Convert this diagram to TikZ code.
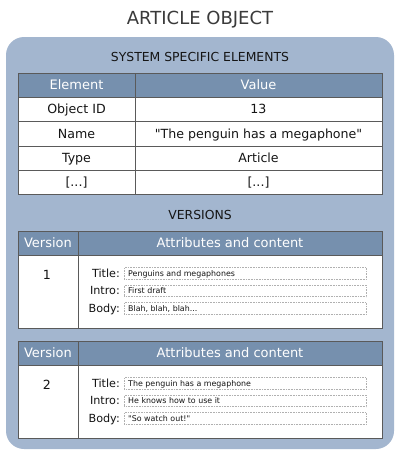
\documentclass[tikz,border=0pt]{standalone}
\usepackage{fontspec}
\setmainfont{DejaVu Sans}
\definecolor{outerfill}{HTML}{A3B6CF}
\definecolor{headfill}{HTML}{7690AE}
\definecolor{gridc}{HTML}{5A5A5A}
\definecolor{txt}{HTML}{151515}
\definecolor{titlec}{HTML}{3A3A3A}
\definecolor{dotc}{HTML}{B0B0B0}
\tikzset{
  cell/.style={text=txt, font=\fontsize{12.6}{14}\selectfont, inner sep=0pt, text height=9.2pt, text depth=0pt, anchor=center},
  headtxt/.style={text=white, font=\fontsize{13}{15}\selectfont, inner sep=0pt, text height=9.5pt, text depth=0pt, anchor=center},
  sectxt/.style={text=txt, font=\fontsize{12.4}{14}\selectfont, inner sep=0pt, text height=9pt, text depth=0pt},
  flabel/.style={text=txt, font=\fontsize{11.2}{12}\selectfont, inner sep=0pt, text height=8.2pt, text depth=0pt, anchor=east},
  fbox/.style={draw=dotc, densely dotted, line width=0.6pt, fill=white, minimum width=242pt, minimum height=11.5pt, inner sep=0pt, anchor=west},
  ftxt/.style={text=txt, font=\fontsize{7.9}{9}\selectfont, inner sep=0pt, text height=5.8pt, text depth=0pt, anchor=west},
  grid/.style={draw=gridc, line width=1pt},
}
\newcommand{\vtable}[7]{%
  % #1 prefix, #2 top y, #3 version number, #4 title, #5 intro, #6 body, #7 bottom y
  \fill[white] (18,#2) rectangle (382,#7);
  \fill[headfill] (18,#2) rectangle (382,#2+24);
  \draw[grid] (18,#2) rectangle (382,#7);
  \draw[grid] (18,#2+24) -- (382,#2+24);
  \draw[grid] (78,#2) -- (78,#7);
  \node[headtxt] (#1hv) at (48,#2+12) {Version};
  \node[headtxt] (#1ha) at (230,#2+12) {Attributes and content};
  \node[cell] (#1n) at (47,#2+44) {#3};
  \node[fbox] (#1bt) at (124,#2+42.5) {};
  \node[flabel] (#1lt) at (120,#2+42) {Title:};
  \node[ftxt] (#1tt) at (128,#2+42.5) {#4};
  \node[fbox] (#1bi) at (124,#2+60) {};
  \node[flabel] (#1li) at (120,#2+59.5) {Intro:};
  \node[ftxt] (#1ti) at (128,#2+60) {#5};
  \node[fbox] (#1bb) at (124,#2+77.5) {};
  \node[flabel] (#1lb) at (120,#2+77) {Body:};
  \node[ftxt] (#1tb) at (128,#2+77.5) {#6};
}
\begin{document}
\begin{tikzpicture}[x=1pt,y=-1pt]
\useasboundingbox (0,0) rectangle (400,456);
\node[text=titlec, font=\fontsize{18}{21}\selectfont, inner sep=0pt, text height=13.1pt, text depth=0pt] (title) at (200,18) {ARTICLE OBJECT};
\fill[outerfill, rounded corners=18pt] (6,37) rectangle (394,449);
\node[sectxt] (sse) at (200,57) {SYSTEM SPECIFIC ELEMENTS};
% table 1
\fill[white] (18,73) rectangle (382,194);
\fill[headfill] (18,73) rectangle (382,97);
\draw[grid] (18,73) rectangle (382,194);
\foreach \yy in {97,121.5,146,170} \draw[grid] (18,\yy) -- (382,\yy);
\draw[grid] (135,73) -- (135,194);
\node[headtxt] (he) at (76.5,85) {Element};
\node[headtxt] (hv) at (258.5,85) {Value};
\node[cell] (k1) at (76.5,109.3) {Object ID};
\node[cell] (v1) at (258.5,109.3) {13};
\node[cell] (k2) at (76.5,133.7) {Name};
\node[cell] (v2) at (258.5,133.7) {\textquotedbl The penguin has a megaphone\textquotedbl};
\node[cell] (k3) at (76.5,158) {Type};
\node[cell] (v3) at (258.5,158) {Article};
\node[cell] (k4) at (76.5,182) {[...]};
\node[cell] (v4) at (258.5,182) {[...]};
\node[sectxt] (vers) at (200,215) {VERSIONS};
\vtable{a}{231}{1}{Penguins and megaphones}{First draft}{Blah, blah, blah...}{328}
\vtable{b}{341}{2}{The penguin has a megaphone}{He knows how to use it}{\textquotedbl So watch out!\textquotedbl}{438}
\end{tikzpicture}
\end{document}
